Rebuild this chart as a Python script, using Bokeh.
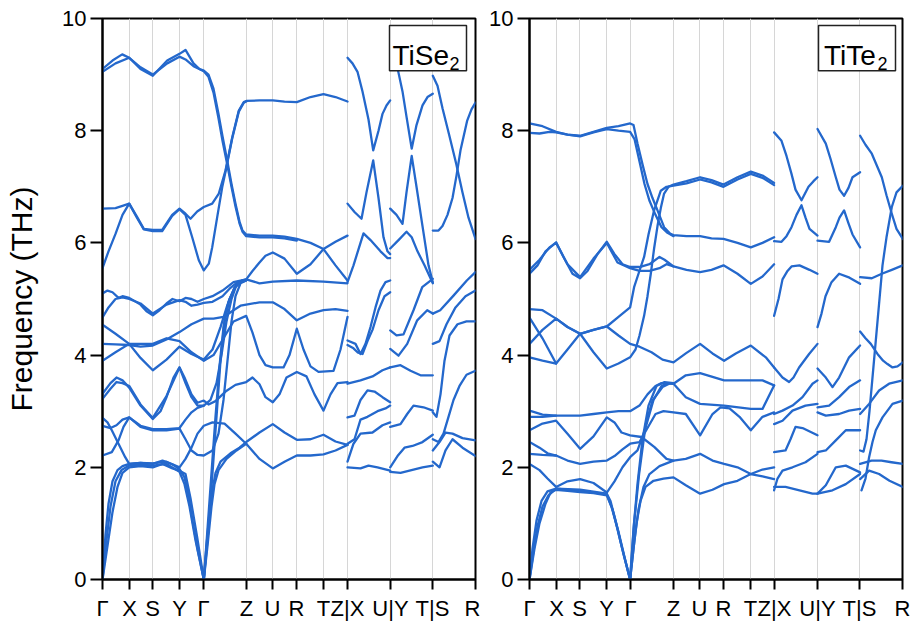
from bokeh.plotting import figure
from bokeh.layouts import row
from bokeh.models import Range1d, FixedTicker, BoxAnnotation, Label
from bokeh.embed import file_html
from bokeh.resources import INLINE

# ---------------- tick labels (high-symmetry path) ----------------
K_POS = [0, 27, 50, 77, 101, 144, 170, 194, 221, 245, 288, 330, 373]
K_LAB = ["Γ", "X", "S", "Y", "Γ", "Z", "U", "R", "T", "Z|X", "U|Y", "T|S", "R"]
Y_TICKS = [0, 2, 4, 6, 8, 10]

# ---------------- TiSe2 bands (distance along path, THz) ----------------
TISE2_PATH_A = [
    [(0,9.10),(10,9.25),(19.7,9.36),(26.7,9.30),(38,9.10),(50.3,8.98),(64.7,9.25),(77,9.37),(83,9.44),(91,9.2),(97,9.10),(101.3,9.07),(106,9.0),(111,8.75),(116,8.3),(120,7.9),(124.7,7.47),(129,7.05),(133,6.70),(137,6.38),(140,6.22),(143.7,6.15),(157,6.13),(170.3,6.13),(182,6.11),(194.3,6.07),(208,6.0),(221,5.89),(233,5.6),(245,5.33)],
    [(0,9.05),(13,9.2),(26.7,9.30),(38,9.13),(50.3,9.0),(64.7,9.2),(77,9.32),(83,9.27),(91,9.15),(101.3,9.06),(106,8.96),(111,8.68),(116,8.22),(120,7.82),(124.7,7.4),(129,7.0),(133,6.65),(137,6.35),(140,6.2),(143.7,6.12),(157,6.1),(170.3,6.1),(182,6.08),(194.3,6.04)],
    [(0,6.61),(13,6.62),(20,6.66),(26.7,6.70),(34.7,6.46),(41.3,6.25),(50.3,6.23),(59.7,6.23),(69.7,6.5),(77,6.61),(83,6.52),(88,6.43),(94.7,6.56),(101.3,6.64),(109.7,6.70),(116.3,6.88),(123,7.29),(129.7,7.88),(136.3,8.36),(141.3,8.51),(143.7,8.53),(157,8.54),(170.3,8.54),(182,8.52),(194.3,8.51),(208,8.6),(221,8.65),(233,8.6),(245,8.52)],
    [(0,5.55),(6,5.85),(13,6.16),(20,6.5),(26.7,6.70),(34.7,6.44),(41.3,6.24),(50.3,6.21),(59.7,6.21),(69.7,6.48),(77,6.60),(83,6.50),(89.7,6.10),(96.3,5.69),(101.3,5.51),(106.3,5.63),(109.7,5.92),(114.7,6.46),(119.7,6.99),(123,7.27),(129.7,7.86),(136.3,8.34),(141.3,8.50),(143.7,8.52)],
    [(0,5.1),(5,5.15),(10,5.12),(16,5.02),(20,5.05),(26.7,5.02),(38,4.9),(44,4.78),(50.3,4.71),(57,4.8),(64,4.92),(70,5.0),(77,4.96),(83,5.02),(89,5.0),(95,4.95),(101.3,5.0),(110,5.05),(120,5.15),(131,5.3),(143.7,5.35),(157,5.28),(170.3,5.31),(194.3,5.33),(221,5.31),(245,5.28)],
    [(0,4.67),(6,4.85),(13,5.0),(20,5.03),(26.7,5.0),(38,4.92),(50.3,4.74),(64,4.9),(77,4.98),(83,4.95),(89,4.88),(95,4.9),(101.3,4.93),(110,4.95),(120,5.05),(128,5.2),(135,5.3),(143.7,5.35),(150,5.5),(157,5.65),(163,5.77),(170.3,5.83),(182,5.72),(194.3,5.45),(208,5.62),(221,5.89),(233,6.02),(245,6.13)],
    [(0,4.54),(13,4.38),(26.7,4.2),(38,3.95),(50.3,3.73),(64,3.92),(77,4.15),(89,4.02),(101.3,3.92),(110,4.1),(118,4.5),(125,4.9),(132,5.2),(138,5.3),(143.7,5.33)],
    [(0,4.2),(13,4.19),(26.7,4.18),(38,4.15),(50.3,4.17),(64,4.28),(77,4.41),(89,4.55),(101.3,4.65),(111,4.65),(121,4.68),(131,4.8),(138,4.88),(143.7,4.9),(157,4.94),(170.3,4.94),(182,4.82),(194.3,4.62),(208,4.74),(221,4.8),(233,4.82),(245,4.79)],
    [(0,3.9),(13,4.05),(26.7,4.2),(38,4.2),(50.3,4.2),(64,4.3),(77,4.25),(89,4.05),(101.3,3.9),(111,4.0),(121,4.3),(131,4.6),(143.7,4.70),(150,4.4),(157,4.0),(163,3.82),(170.3,3.78),(181,3.78),(187,4.0),(194.3,4.47),(201,4.1),(208,3.8),(216,3.7),(231,3.72),(238,4.1),(245,4.68)],
    [(0,3.31),(8,3.5),(14,3.6),(20,3.55),(26.7,3.42),(38,3.1),(50.3,2.86),(58,3.0),(64,3.25),(71,3.6),(77,3.78),(82,3.6),(89,3.3),(95,3.15),(101.3,3.19),(106,3.12),(113,3.18),(123,3.35),(133,3.47),(143.7,3.52),(150,3.6),(157,3.48),(163,3.25),(170.3,3.16),(177,3.3),(184,3.6),(194.3,3.70),(204,3.62),(212,3.3),(221,3.01),(228,3.3),(235,3.5),(245,3.52)],
    [(0,3.22),(8,3.4),(14,3.52),(20,3.5),(26.7,3.45),(38,3.12),(50.3,2.88),(64,3.27),(77,3.78),(83,3.5),(89,3.25),(95,3.1),(101.3,3.1),(108,3.2),(114,3.5),(119,4.0),(124,4.6),(129,5.0),(134,5.25),(140,5.33)],
    [(0,2.88),(5,2.8),(9.3,2.66),(16,2.42),(22.7,2.18),(26.7,2.06),(38,2.08),(50.3,2.07),(64,2.1),(77,2.0),(83,2.15),(89,2.35),(95,2.6),(101.3,2.74),(110,2.8),(122,2.78),(133,2.6),(143.7,2.42),(157,2.15),(170.3,1.98),(182,2.1),(194.3,2.21),(208,2.21),(221,2.23),(233,2.3),(245,2.40)],
    [(0,2.21),(9.3,2.27),(16,2.48),(21,2.72),(26.7,2.89),(38,2.72),(50.3,2.66),(64,2.66),(77,2.69),(83,2.5),(89,2.3),(95,2.22),(101.3,2.21),(110,2.3),(116,2.6),(121,3.2),(125,3.9),(129,4.6),(133,5.05),(138,5.28),(143.7,5.33)],
    [(0,2.74),(8,2.7),(14,2.75),(20,2.85),(26.7,2.89),(38,2.74),(50.3,2.68),(64,2.68),(77,2.70),(83,2.85),(89,2.98),(95,3.06),(101.3,3.1)],
    [(0,0),(3,0.8),(6,1.35),(10,1.75),(15,1.95),(20,2.02),(26.7,2.06),(38,2.08),(50.3,2.06),(60,2.12),(70,2.05),(77,1.97),(82,1.82),(86,1.5),(90,1.05),(95,0.55),(101.3,0)],
    [(0,0),(5,0.6),(10,1.2),(15,1.65),(20,1.9),(26.7,2.0),(38,2.02),(50.3,2.0),(60,2.06),(70,1.98),(77,1.94),(83,1.88),(88,1.45),(94.7,0.75),(101.3,0)],
    [(0,0),(4,0.7),(8,1.3),(13,1.75),(19,1.95),(26.7,2.03),(38,2.05),(50.3,2.03),(64,2.06),(77,1.92),(82,1.7),(87,1.3),(93,0.7),(101.3,0)],
    [(101.3,0),(104,0.6),(107,1.2),(110,1.6),(113,1.9),(118,2.1),(128,2.25),(137,2.35),(143.7,2.45),(157,2.62),(170.3,2.77),(182,2.62),(194.3,2.49),(208,2.5),(221,2.58),(233,2.46),(245,2.40)],
    [(101.3,0),(105,0.6),(109,1.3),(112,1.7),(116,1.95),(124,2.15),(134,2.3),(143.7,2.42)],
    [(101.3,0),(106,0.9),(110,1.9),(114,2.9),(118,3.9),(122,4.6),(127,5.0),(133,5.22),(138,5.3),(143.7,5.33)],
    [(101.3,0),(105,0.9),(109,1.9),(113,2.9),(117,3.8),(121,4.5),(126,4.95),(132,5.2),(138,5.3)],
]
TISE2_X_U = [
    [(245,9.30),(250,9.2),(255,9.05),(260,8.7),(266,8.2),(270.7,7.65),(276,8.0),(280,8.3),(284,8.45),(287.7,8.54)],
    [(245,6.70),(252,6.55),(259,6.43),(264,6.9),(270.7,7.47),(276,6.8),(281,6.1),(285,5.85),(287.7,5.8)],
    [(245,5.3),(251,5.6),(258,6.0),(261,6.17),(268,6.05),(278,5.85),(285,5.73),(287.7,5.73)],
    [(245,4.26),(253,4.2),(258,4.02),(263,4.2),(268,4.5),(273,4.85),(278,5.15),(283,5.3),(287.7,5.33)],
    [(245,4.18),(251,4.12),(255,4.05),(260,4.02),(265,4.25),(270,4.45),(276,4.8),(282,5.05),(287.7,5.12)],
    [(245,3.49),(258,3.55),(270,3.62),(280,3.73),(287.7,3.78)],
    [(245,2.89),(252,2.92),(258,3.2),(265,3.37),(272,3.35),(280,3.25),(287.7,3.16)],
    [(245,2.42),(252,2.5),(258,2.85),(265,2.9),(275,3.0),(283,3.05),(287.7,3.1)],
    [(245,2.1),(251,2.42),(258,2.6),(270,2.62),(280,2.75),(287.7,2.8)],
    [(245,2.0),(258,1.98),(266,2.03),(275,2.0),(287.7,1.94)],
]
TISE2_Y_T = [
    [(287.7,9.6),(294,9.2),(300,8.7),(304,8.25),(309.2,7.68),(314,8.1),(320,8.45),(325,8.6),(330.3,8.66)],
    [(287.7,6.61),(294,6.5),(300,6.34),(304,6.9),(309.2,7.55),(314,7.0),(320,6.3),(326,5.6),(330.3,5.3)],
    [(287.7,5.9),(296,6.05),(304,6.2),(309.2,6.1),(315,5.85),(322,5.6),(330.3,5.28)],
    [(287.7,4.44),(294,4.35),(301,4.37),(311,4.8),(319.7,5.21),(330.3,5.36)],
    [(287.7,4.11),(296,3.99),(304.7,4.2),(314.7,4.62),(324.7,4.8),(330.3,4.74)],
    [(287.7,3.78),(298,3.82),(308,3.72),(318,3.64),(330.3,3.64)],
    [(287.7,2.72),(298,2.77),(304.7,2.95),(311,3.1),(321,3.07),(330.3,3.01)],
    [(287.7,2.0),(295,2.2),(302,2.35),(310,2.38),(320,2.45),(330.3,2.58)],
    [(287.7,1.92),(298,1.9),(309,1.95),(320,2.0),(330.3,2.03)],
]
TISE2_S_R = [
    [(330.3,8.98),(335,8.8),(340,8.4),(347,7.9),(353.7,7.41),(360,6.9),(366,6.45),(373,6.07)],
    [(330.3,6.22),(336,6.22),(340,6.3),(345,6.5),(350,6.8),(354,7.2),(358,7.65),(364.7,8.18),(369,8.38),(373,8.5)],
    [(330.3,4.74),(337.7,4.8),(351,5.06),(364.3,5.33),(373,5.48)],
    [(330.3,4.2),(337,4.25),(344,4.55),(353,4.85),(363,5.05),(373,5.15)],
    [(330.3,2.98),(334,2.9),(338,3.3),(342,3.9),(347,4.35),(355,4.55),(364,4.6),(373,4.6)],
    [(330.3,2.5),(336,2.45),(341,2.6),(346,2.9),(351,3.2),(357,3.45),(364,3.65),(373,3.72)],
    [(330.3,2.3),(337,2.45),(343,2.62),(350,2.6),(360,2.52),(373,2.48)],
    [(330.3,2.1),(337,2.0),(343,2.3),(350,2.5),(360,2.35),(373,2.2)],
]

# ---------------- TiTe2 bands ----------------
TITE2_PATH_A = [
    [(0,8.13),(13,8.08),(26.6,7.98),(38,7.93),(50.6,7.91),(64,7.98),(77.3,8.05),(89,8.08),(100.6,8.13),(104,8.1),(108,7.77),(113,7.4),(118,7.05),(123,6.8),(128,6.58),(134.6,6.28),(141,6.16),(144,6.14),(157,6.12),(170.6,6.12),(182,6.08),(194,6.07),(208,6.0),(221.3,5.92),(233,6.0),(244.6,6.1)],
    [(0,7.96),(10,7.95),(20,7.98),(26.6,7.97),(38,7.93),(50.6,7.90),(64,7.97),(77.3,8.03),(89,8.0),(100.6,7.98),(105,7.85),(110,7.45),(115,7.05),(120,6.75),(126,6.5),(132,6.28),(138,6.18),(144,6.12)],
    [(0,4.82),(13,4.8),(26.6,4.65),(38,4.5),(50.6,4.38),(64,4.45),(77.3,4.51),(89,4.68),(100.6,4.85),(104.6,5.21),(109,5.45),(114.6,5.75),(119,6.15),(124.6,6.58),(131.3,6.93),(137,7.0),(144,7.02),(157,7.06),(170.6,7.13),(182,7.08),(194,7.0),(208,7.13),(221.3,7.23),(233,7.16),(244.6,7.03)],
    [(0,4.67),(13,4.3),(26.6,3.85),(38,4.1),(50.6,4.38),(64,4.05),(77.3,3.76),(89,3.85),(100.6,3.96),(106,4.1),(110,4.35),(114.6,4.7),(118,5.05),(121.3,5.45),(124.6,5.9),(128,6.3),(131.3,6.62),(134.6,6.88),(139,7.0),(144,7.04),(157,7.1),(170.6,7.17),(182,7.12),(194,7.04),(208,7.17),(221.3,7.27),(233,7.2),(244.6,7.07)],
    [(0,4.2),(13,4.45),(26.6,4.65),(38,4.5),(50.6,4.38),(64,4.45),(77.3,4.51),(89,4.35),(100.6,4.2),(110,4.15),(122,4.05),(133,3.92),(144,3.87),(156.3,4.03),(170.6,4.2),(183,4.03),(194.6,3.9),(206.3,4.03),(221.3,4.17),(236.3,3.96),(244.6,3.78)],
    [(0,3.96),(13,3.9),(26.6,3.85)],
    [(100.6,5.57),(110,5.57),(120,5.62),(130,5.75),(135,5.7),(144,5.58),(157,5.52),(170.6,5.48),(182,5.52),(194,5.6),(208,5.45),(221.3,5.27),(233,5.4),(244.6,5.62)],
    [(0,5.45),(8,5.6),(16,5.85),(26.6,6.01),(34,5.75),(43,5.45),(50.6,5.37),(58,5.5),(68,5.8),(77.3,6.02),(85,5.8),(93,5.62),(100.6,5.57)],
    [(0,5.52),(10,5.7),(20,5.92),(26.6,6.0),(38,5.62),(50.6,5.39),(64,5.72),(77.3,6.0),(88,5.65),(100.6,5.55),(110,5.5),(120,5.5),(130,5.55),(137,5.62),(144,5.58)],
    [(0,3.01),(13,2.94),(26.6,2.92),(38,2.92),(50.6,2.92),(64,2.95),(77.3,2.98),(89,3.0),(100.6,3.0),(110,3.1),(118,3.3),(126,3.45),(132,3.5),(138,3.5),(144,3.49),(156.3,3.64),(170.6,3.68),(194.6,3.55),(233,3.55),(244.6,3.46)],
    [(144,3.49),(156.3,3.25),(170.6,3.13),(194.6,3.1),(221.3,3.04),(233,3.04),(244.6,3.46)],
    [(0,2.9),(13,2.9),(26.6,2.92)],
    [(0,2.66),(13,2.78),(26.6,2.83),(38,2.6),(50.6,2.33),(64,2.55),(77.3,2.89),(85,2.8),(92,2.62),(100.6,2.57),(112,2.54),(125,2.36),(137,2.15),(144,2.12),(156.3,2.15),(170.6,2.24),(183,2.12),(194.6,2.06),(208,2.0),(221.3,1.88),(233,1.96),(244.6,2.0)],
    [(0,2.45),(10,2.35),(18,2.25),(26.6,2.21),(38,2.12),(50.6,2.06),(64,2.1),(77.3,2.12),(85,2.2),(93,2.32),(100.6,2.42),(110,2.45),(118,2.7),(126,2.95),(134,3.0),(144,2.98),(156.3,2.95),(170.6,2.57),(183,2.95),(191,3.07),(200,3.05),(210,2.9),(221.3,2.66),(233,2.9),(244.6,2.98)],
    [(0,2.24),(13,2.22),(26.6,2.21)],
    [(0,2.06),(10,1.95),(18,1.8),(26.6,1.65),(38,1.75),(50.6,1.79),(64,1.72),(77.3,1.55),(85,1.75),(93,2.0),(100.6,2.18),(108,2.3),(116,2.7),(124,3.2),(132,3.45),(138,3.5),(144,3.49)],
    [(0,0),(4,0.5),(8,0.95),(13,1.3),(19,1.5),(26.6,1.62),(38,1.6),(50.6,1.58),(64,1.55),(77.3,1.52),(82,1.3),(88,0.9),(94,0.45),(100.6,0)],
    [(0,0),(5,0.55),(10,1.0),(16,1.35),(21,1.55),(26.6,1.6),(38,1.58),(50.6,1.56),(64,1.54),(77.3,1.5),(83,1.25),(89,0.85),(95,0.4),(100.6,0)],
    [(0,0),(3,0.55),(7,1.05),(12,1.4),(18,1.57),(26.6,1.62),(50.6,1.6),(77.3,1.53),(81,1.4),(86,1.05),(92,0.6),(100.6,0)],
    [(100.6,0),(104,0.55),(107,1.0),(111,1.4),(116,1.65),(124,1.76),(134,1.8),(144,1.82),(156.3,1.68),(170.6,1.53),(183,1.6),(194.6,1.7),(208,1.76),(221.3,1.88),(233,1.84),(244.6,1.79)],
    [(100.6,0),(105,0.7),(109,1.25),(114,1.65),(120,1.88),(130,2.02),(144,2.12)],
    [(100.6,0),(104.6,1.0),(109.6,1.88),(116.3,2.77),(123,3.19),(133,3.43),(139.6,3.49),(144,3.49)],
    [(100.6,0),(104,0.9),(108,1.7),(113,2.5),(119,3.1),(127,3.45),(135,3.52),(144,3.5)],
]
TITE2_X_U = [
    [(244.6,7.97),(252,7.82),(257,7.55),(262,7.23),(266,6.95),(272,6.76),(279,7.0),(284,7.1),(288,7.17)],
    [(244.6,6.03),(252,6.02),(257,6.12),(262,6.28),(267,6.5),(272,6.67),(276,6.45),(280,6.25),(288,6.13)],
    [(244.6,4.7),(249,5.0),(253,5.35),(258,5.5),(262,5.58),(270,5.6),(280,5.52),(288,5.45)],
    [(244.6,3.78),(253,3.6),(259.6,3.52),(264,3.6),(269.6,3.78),(279.6,4.02),(288,4.2)],
    [(244.6,2.95),(253,3.01),(263,3.1),(273,3.25),(283,3.49),(288,3.55)],
    [(244.6,2.77),(253,2.83),(263,3.01),(276,3.1),(288,3.13)],
    [(244.6,2.27),(256,2.3),(261,2.5),(266,2.72),(273,2.7),(288,2.57)],
    [(244.6,1.59),(248,1.8),(253,1.94),(263,2.0),(276,2.09),(288,2.24)],
    [(244.6,1.65),(256,1.65),(270,1.59),(283,1.53),(288,1.53)],
]
TITE2_Y_T = [
    [(288,8.03),(296.3,7.77),(301,7.5),(306.3,7.17),(310,6.95),(314.6,6.84),(319,6.98),(323,7.17),(330.6,7.26)],
    [(288,6.04),(299.6,6.02),(306.3,6.28),(310,6.45),(314.6,6.58),(319,6.35),(323,6.15),(330.6,5.92)],
    [(288,4.5),(292,4.74),(296,5.05),(302,5.3),(309.6,5.45),(320,5.38),(330.6,5.27)],
    [(288,3.76),(296.3,3.6),(303,3.43),(309.6,3.6),(319.6,3.96),(330.6,4.17)],
    [(288,3.07),(299.6,3.1),(309.6,3.25),(319.6,3.43),(330.6,3.55)],
    [(288,2.98),(296.3,2.92),(309.6,2.95),(319.6,3.01),(330.6,3.04)],
    [(288,2.27),(296.3,2.3),(306.3,2.48),(316.3,2.66),(330.6,2.66)],
    [(288,1.53),(296.3,1.68),(306.3,2.0),(316.3,2.03),(330.6,1.91)],
    [(288,1.53),(303,1.59),(316.3,1.7),(330.6,1.88)],
]
TITE2_S_R = [
    [(330.6,7.91),(336,7.75),(342.3,7.59),(352.3,7.17),(357,6.85),(362.3,6.52),(367,6.25),(373.3,6.07)],
    [(330.6,2.3),(334,2.28),(337,2.5),(340,3.0),(343.5,3.7),(347,4.4),(350,5.0),(353,5.6),(357,6.1),(362.3,6.64),(367,6.9),(373.3,7.02)],
    [(330.6,4.42),(336,4.3),(341.3,4.2),(348,4.02),(353.6,3.9),(358,3.84),(363,3.78),(368,3.8),(373.3,3.87)],
    [(330.6,5.39),(342.3,5.37),(352.3,5.45),(362.3,5.52),(373.3,5.6)],
    [(330.6,2.95),(339.6,3.13),(349.6,3.37),(359.6,3.49),(373.3,3.55)],
    [(332,1.59),(336,1.8),(339.6,2.18),(343,2.45),(346.3,2.66),(353,2.89),(363,3.13),(373.3,3.19)],
    [(330.6,2.06),(342,2.12),(352,2.12),(362,2.09),(373.3,2.06)],
    [(330.6,1.79),(339.6,1.94),(349.6,1.88),(360,1.76),(373.3,1.65)],
]

BLUE = "#2468cc"
FONT = "Liberation Sans"


def make_fig(width, border_left, border_right, ylabel):
    p = figure(width=width, height=626, x_range=Range1d(0, 373), y_range=Range1d(0, 10),
               output_backend="svg", toolbar_location=None,
               min_border_left=border_left, min_border_right=border_right,
               min_border_top=18, min_border_bottom=47)
    p.background_fill_color = "white"
    p.border_fill_color = "white"
    p.outline_line_color = "black"
    p.outline_line_width = 2

    p.xaxis.ticker = FixedTicker(ticks=K_POS)
    p.xaxis.major_label_overrides = {k: lab for k, lab in zip(K_POS, K_LAB)}
    p.xaxis.major_tick_out = 10
    p.xaxis.major_tick_in = 0
    p.xaxis.minor_tick_line_color = None
    p.xaxis.axis_line_width = 2
    p.xaxis.major_tick_line_width = 2
    p.xaxis.major_label_standoff = 6
    p.xaxis.major_label_text_font = FONT
    p.xaxis.major_label_text_font_size = "22px"
    p.xaxis.major_label_text_color = "black"

    p.yaxis.ticker = FixedTicker(ticks=Y_TICKS)
    p.yaxis.major_tick_out = 12
    p.yaxis.major_tick_in = 0
    p.yaxis.minor_tick_line_color = None
    p.yaxis.axis_line_width = 2
    p.yaxis.major_tick_line_width = 2
    p.yaxis.major_label_standoff = 4
    p.yaxis.major_label_text_font = FONT
    p.yaxis.major_label_text_font_size = "22px"
    p.yaxis.major_label_text_color = "black"
    if ylabel:
        p.yaxis.axis_label = ylabel
        p.yaxis.axis_label_text_font = FONT
        p.yaxis.axis_label_text_font_size = "30px"
        p.yaxis.axis_label_text_font_style = "normal"
        p.yaxis.axis_label_text_color = "black"
        p.yaxis.axis_label_standoff = 21

    p.xgrid.ticker = FixedTicker(ticks=K_POS)
    p.xgrid.grid_line_color = "#d6d6d6"
    p.xgrid.grid_line_width = 1
    p.ygrid.grid_line_color = None
    return p


def draw(p, groups):
    for curves in groups:
        xs = [[pt[0] for pt in c] for c in curves]
        ys = [[pt[1] for pt in c] for c in curves]
        p.multi_line(xs, ys, line_color=BLUE, line_width=2.3, line_join="round", line_cap="round")


def tag(p, main, box_left, text_x, sub_x):
    p.add_layout(BoxAnnotation(left=box_left, right=box_left + 77, bottom=9.07, top=9.875,
                               fill_color="white", fill_alpha=1.0,
                               line_color="#222222", line_width=1.5, line_alpha=1.0))
    p.add_layout(Label(x=text_x, y=9.34, text=main, text_font=FONT, text_font_size="28px",
                       text_color="black", text_baseline="alphabetic"))
    p.add_layout(Label(x=sub_x, y=9.2, text="2", text_font=FONT, text_font_size="18px",
                       text_color="black", text_baseline="alphabetic"))


p1 = make_fig(480, 102, 5, "Frequency (THz)")
draw(p1, [TISE2_PATH_A, TISE2_X_U, TISE2_Y_T, TISE2_S_R])
tag(p1, "TiSe", 287, 290, 347)

p2 = make_fig(435, 49, 13, None)
draw(p2, [TITE2_PATH_A, TITE2_X_U, TITE2_Y_T, TITE2_S_R])
tag(p2, "TiTe", 289, 294.5, 348)

layout = row(p1, p2)
open("out.html", "w").write(file_html(layout, INLINE))
